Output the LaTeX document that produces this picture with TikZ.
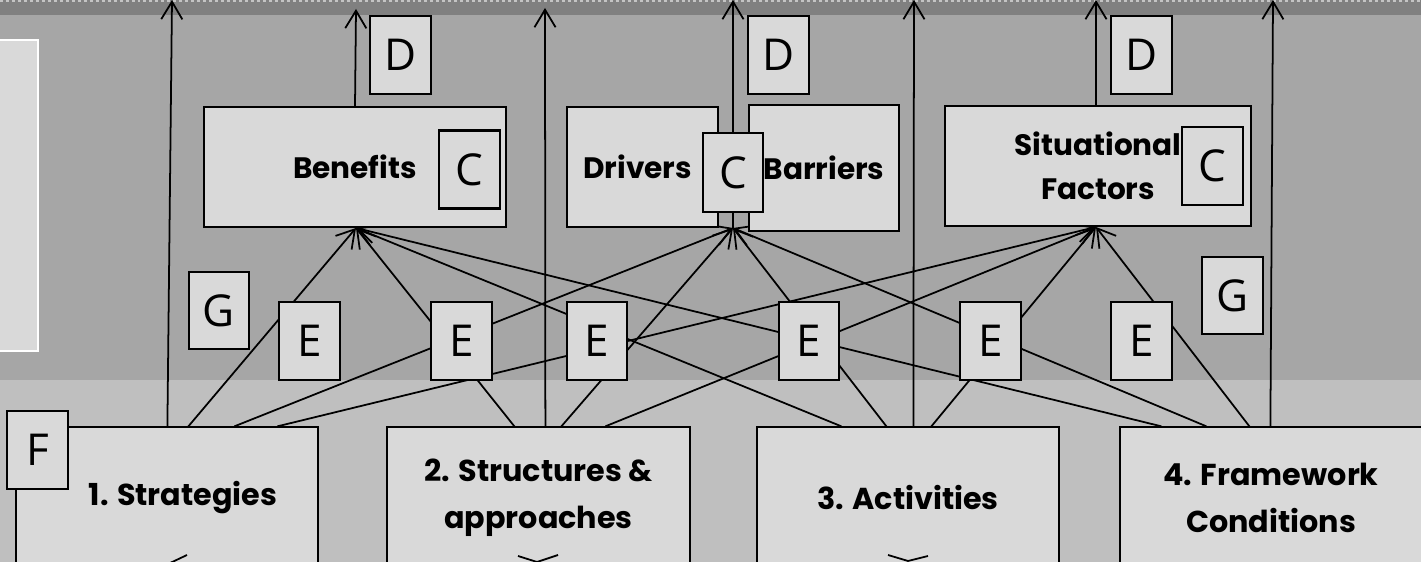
\documentclass[tikz,border=0pt]{standalone}
\usepackage{fontspec}
\setmainfont{Open Sans}
\newfontfamily\lblfont{Poppins}
\usetikzlibrary{arrows.meta}
\pgfdeclarelayer{bg}
\pgfdeclarelayer{lines}
\pgfsetlayers{bg,lines,main}
\definecolor{bandtop}{HTML}{808080}
\definecolor{bandmid}{HTML}{A6A6A6}
\definecolor{bandlow}{HTML}{BFBFBF}
\definecolor{boxfill}{HTML}{D9D9D9}
\definecolor{dashcol}{HTML}{C4C4C4}
\begin{document}
\begin{tikzpicture}[x=0.01cm,y=-0.01cm,
  bigbox/.style={draw=black, fill=boxfill, line width=0.35pt, inner sep=0pt, align=center,
    font=\lblfont\bfseries\fontsize{8.4}{12.5}\selectfont},
  lowbox/.style={bigbox, minimum width=3.02cm, minimum height=1.42cm,
    font=\lblfont\bfseries\fontsize{8.6}{13.3}\selectfont},
  letter/.style={draw=black, fill=boxfill, line width=0.65pt, minimum width=0.61cm,
    minimum height=0.78cm, inner sep=0pt, font=\fontsize{12.5}{13}\selectfont},
  link/.style={line width=0.5pt, -{Straight Barb[length=5pt,width=6pt]}},
  frag/.style={line width=0.5pt}]
\useasboundingbox (0,0) rectangle (1421,562);
\begin{pgfonlayer}{bg}
  \fill[bandlow] (0,380) rectangle (1421,562);
  \fill[bandmid] (0,15) rectangle (1421,380);
  \fill[bandtop] (0,0) rectangle (1421,15);
  \draw[dashcol, line width=0.6pt, dash pattern=on 0.85pt off 0.85pt] (0,1) -- (1421,1);
  \draw[white, fill=boxfill, line width=0.35pt] (-10,40) rectangle (38,351);
\end{pgfonlayer}

% upper boxes
\node[bigbox, minimum width=3.02cm, minimum height=1.2cm] (benefits) at (355,167) {Benefits};
\node[letter] (c1) at (469.5,169.5) {C};
\node[bigbox, minimum width=1.51cm, minimum height=1.2cm] (drivers) at (642.5,167) {Drivers\hspace*{0.1cm}};
\node[bigbox, minimum width=1.50cm, minimum height=1.26cm] (barriers) at (824,168) {Barriers};
\node[letter, minimum width=0.60cm, minimum height=0.79cm] (c2) at (733,172.5) {C};
\node[bigbox, minimum width=3.06cm, minimum height=1.2cm] (situational) at (1098,166) {Situational\\Factors};
\node[letter] (c3) at (1212.5,166) {C};

\node[letter] (d1) at (400.5,55) {D};
\node[letter] (d2) at (778.5,55) {D};
\node[letter] (d3) at (1141.5,55) {D};

\node[letter, minimum width=0.60cm, minimum height=0.77cm] (g1) at (219,310.5) {G};
\node[letter, minimum width=0.61cm, minimum height=0.77cm] (g2) at (1232.5,295.5) {G};

\node[letter] (e1) at (309.5,341) {E};
\node[letter] (e2) at (461.5,341) {E};
\node[letter, minimum width=0.60cm] (e3) at (597,341) {E};
\node[letter, minimum width=0.60cm] (e4) at (809,341) {E};
\node[letter] (e5) at (990.5,341) {E};
\node[letter] (e6) at (1141.5,341) {E};

% lower boxes
\node[lowbox] (s1) at (167,498) {\hspace*{0.32cm}1. Strategies};
\node[lowbox, minimum width=3.03cm] (s2) at (538.5,498) {2. Structures \&\\approaches};
\node[lowbox] (s3) at (908,498) {3. Activities};
\node[lowbox] (s4) at (1271,498) {4. Framework\\Conditions};
\node[letter] (f) at (37.5,450) {F};

% hubs and free ends
\coordinate (h1) at (356,228);
\coordinate (h2) at (733,228);
\coordinate (h3) at (1096,227);
\coordinate (t1) at (172,0);
\coordinate (t2) at (545,8);
\coordinate (t3) at (914,0);
\coordinate (t4) at (1273,0);
\coordinate (tb) at (356,9);
\coordinate (th) at (733,0);
\coordinate (ts) at (1096,0);

\begin{pgfonlayer}{lines}
  % vertical arrows from the lower boxes
  \draw[link] ([xshift=1.52cm]s1.north west) -- (t1);
  \draw[link] ([xshift=1.59cm]s2.north west) -- (t2);
  \draw[link] ([xshift=1.57cm]s3.north west) -- (t3);
  \draw[link] ([xshift=1.51cm]s4.north west) -- (t4);
  % arrows up from the upper boxes
  \draw[link] (benefits.north) -- (tb);
  \draw[link] (h2) -- (th);
  \draw[link] ([xshift=-0.02cm]situational.north) -- (ts);
  % connectors to hubs
  \draw[link] ([xshift=1.73cm]s1.north west) -- (h1);
  \draw[link] ([xshift=2.19cm]s1.north west) -- (h2);
  \draw[link] ([xshift=2.62cm]s1.north west) -- (h3);
  \draw[link] ([xshift=1.28cm]s2.north west) -- (h1);
  \draw[link] ([xshift=1.75cm]s2.north west) -- (h2);
  \draw[link] ([xshift=2.19cm]s2.north west) -- (h3);
  \draw[link] ([xshift=0.85cm]s3.north west) -- (h1);
  \draw[link] ([xshift=1.30cm]s3.north west) -- (h2);
  \draw[link] ([xshift=1.75cm]s3.north west) -- (h3);
  \draw[link] ([xshift=0.42cm]s4.north west) -- (h1);
  \draw[link] ([xshift=0.87cm]s4.north west) -- (h2);
  \draw[link] ([xshift=1.30cm]s4.north west) -- (h3);
\end{pgfonlayer}
% fragments of arrow tips at the lower edge
\draw[frag] (168,564) -- (187,555);
\draw[frag] (518,556) -- (537,562) -- (558,555);
\draw[frag] (888,555) -- (908,561) -- (928,556);
\end{tikzpicture}
\end{document}
